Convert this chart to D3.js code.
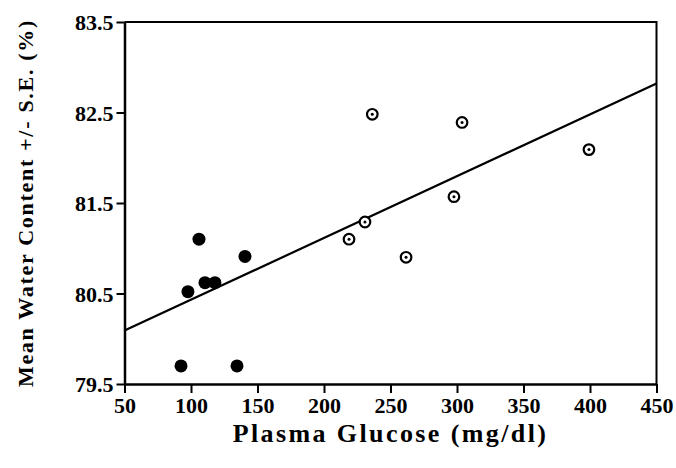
<!DOCTYPE html>
<html>
<head>
<meta charset="utf-8">
<script src="https://cdn.jsdelivr.net/npm/d3@7"></script>
<style>
  body { margin: 0; background: #fff; }
  svg text { font-family: "Liberation Serif", "DejaVu Serif", serif; font-weight: bold; fill: #000; }
</style>
</head>
<body>
<div id="container"></div>
<script>
// data
var controlX = [92.5, 134.6, 97.7, 106, 110.5, 118, 140.6],
    controlY = [79.7, 79.7, 80.52, 81.1, 80.62, 80.62, 80.91],
    diabeticX = [236.3, 303.8, 399.2, 297.7, 230.8, 218.8, 261.7],
    diabeticY = [82.48, 82.39, 82.09, 81.57, 81.29, 81.1, 80.9],
    fitX = [50, 450],
    fitY = [80.09, 82.82],
    xTicks = [50, 100, 150, 200, 250, 300, 350, 400, 450],
    yTicks = [79.5, 80.5, 81.5, 82.5, 83.5];

var margin = {top: 22, right: 19.5, bottom: 84, left: 124.5},
    W = 676, H = 468,
    w = W - margin.left - margin.right,
    h = H - margin.top - margin.bottom;

var svg = d3.select('#container').append('svg')
    .attr('width', W)
    .attr('height', H);

var g = svg.append('g').attr('transform', `translate(${margin.left},${margin.top})`);

/* scales */
var xScale = d3.scaleLinear().domain([50, 450]).range([0, w]);
var yScale = d3.scaleLinear().domain([79.5, 83.5]).range([h, 0]);

/* frame (top and right sides) */
g.append('path')
    .attr('d', `M0,0H${w}V${h}`)
    .attr('fill', 'none').attr('stroke', '#000').attr('stroke-width', 2);

/* axes */
var xAxis = d3.axisBottom(xScale).tickValues(xTicks).tickSize(9).tickSizeOuter(0).tickPadding(4);
var yAxis = d3.axisLeft(yScale).tickValues(yTicks).tickSize(8).tickSizeOuter(0).tickPadding(3)
    .tickFormat(d3.format('.1f'));

var gx = g.append('g').attr('transform', `translate(0,${h})`).call(xAxis);
var gy = g.append('g').call(yAxis);
[gx, gy].forEach(a => {
    a.select('.domain').attr('stroke', '#000').attr('stroke-width', 2.5);
    a.selectAll('.tick line').attr('stroke', '#000').attr('stroke-width', 2);
    a.selectAll('.tick text').attr('font-size', 22).style('font-family', '"Liberation Serif", serif').style('font-weight', 'bold');
});
gy.selectAll('.tick text').attr('dy', '0.35em');

/* regression line */
var fit = fitX.map((x, i) => ({x: x, y: fitY[i]}));
var line = d3.line().x(d => xScale(d.x)).y(d => yScale(d.y));
g.append('path')
    .datum(fit)
    .attr('d', line)
    .attr('fill', 'none').attr('stroke', '#000').attr('stroke-width', 2.2);

/* control points (filled) */
var control = controlX.map((x, i) => ({x: x, y: controlY[i]}));
g.selectAll('.ctrl').data(control).enter().append('circle')
    .classed('ctrl', true)
    .attr('cx', d => xScale(d.x)).attr('cy', d => yScale(d.y))
    .attr('r', 6.5).attr('fill', '#000');

/* diabetic points (open circle with dot) */
var diabetic = diabeticX.map((x, i) => ({x: x, y: diabeticY[i]}));
var dg = g.selectAll('.diab').data(diabetic).enter().append('g')
    .classed('diab', true)
    .attr('transform', d => `translate(${xScale(d.x)},${yScale(d.y)})`);
dg.append('circle').attr('r', 5.3).attr('fill', '#fff').attr('stroke', '#000').attr('stroke-width', 2.2);
dg.append('circle').attr('r', 1.5).attr('fill', '#000');

/* axis titles */
svg.append('text')
    .attr('x', margin.left + w / 2).attr('y', 442)
    .attr('text-anchor', 'middle')
    .attr('font-size', 26)
    .style('letter-spacing', '2.4px')
    .text('Plasma Glucose (mg/dl)');

svg.append('text')
    .attr('transform', `translate(33,${margin.top + h / 2}) rotate(-90)`)
    .attr('text-anchor', 'middle')
    .attr('font-size', 22)
    .style('letter-spacing', '1.7px')
    .text('Mean Water Content +/- S.E. (%)');
</script>
</body>
</html>
